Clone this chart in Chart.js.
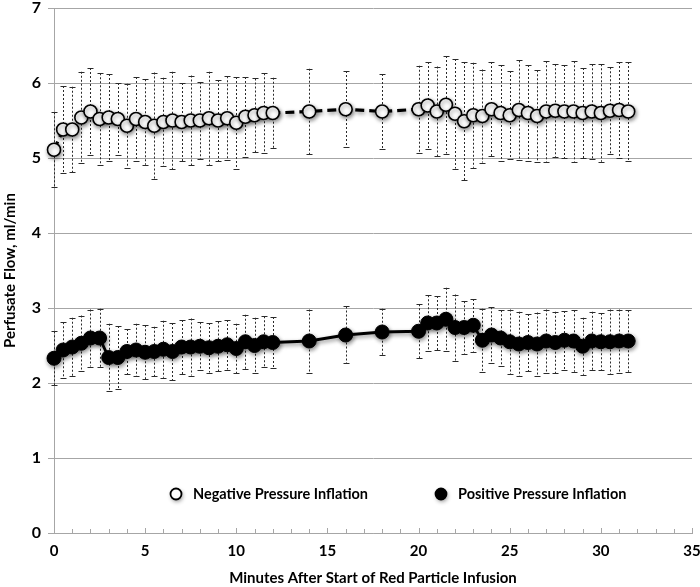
<!DOCTYPE html>
<html>
<head>
<meta charset="utf-8">
<title>Perfusate flow</title>
<script src="https://cdn.jsdelivr.net/npm/chart.js@4"></script>
<style>
  html, body { margin: 0; padding: 0; background: #fff; }
  #wrap { position: relative; width: 700px; height: 587px; }
</style>
</head>
<body>
<div id="wrap"><canvas id="flowChart"></canvas></div>
<script>
/* values (mean +/- SD, ml/min) */
const minutes = [0, 0.5, 1, 1.5, 2, 2.5, 3, 3.5, 4, 4.5, 5, 5.5, 6, 6.5, 7, 7.5, 8, 8.5, 9, 9.5,
  10, 10.5, 11, 11.5, 12, 14, 16, 18, 20, 20.5, 21, 21.5, 22, 22.5, 23, 23.5, 24, 24.5, 25, 25.5,
  26, 26.5, 27, 27.5, 28, 28.5, 29, 29.5, 30, 30.5, 31, 31.5];

const negMean = [5.11, 5.38, 5.38, 5.54, 5.62, 5.52, 5.54, 5.52, 5.43, 5.52, 5.48, 5.43, 5.48, 5.50, 5.48, 5.50, 5.50, 5.53, 5.50, 5.53,
  5.47, 5.55, 5.57, 5.60, 5.60, 5.62, 5.65, 5.62, 5.65, 5.70, 5.62, 5.71, 5.59, 5.49, 5.57, 5.56, 5.65, 5.60, 5.57, 5.64,
  5.60, 5.56, 5.62, 5.63, 5.62, 5.62, 5.60, 5.62, 5.60, 5.63, 5.64, 5.62];
const negSD = [0.50, 0.58, 0.57, 0.61, 0.58, 0.61, 0.58, 0.48, 0.56, 0.56, 0.57, 0.71, 0.59, 0.65, 0.52, 0.60, 0.51, 0.62, 0.54, 0.56,
  0.61, 0.53, 0.49, 0.53, 0.47, 0.57, 0.51, 0.50, 0.58, 0.58, 0.60, 0.65, 0.73, 0.79, 0.70, 0.62, 0.63, 0.64, 0.59, 0.66,
  0.64, 0.61, 0.67, 0.62, 0.62, 0.67, 0.60, 0.63, 0.65, 0.58, 0.64, 0.66];

const posMean = [2.33, 2.44, 2.48, 2.53, 2.60, 2.60, 2.34, 2.34, 2.42, 2.44, 2.41, 2.42, 2.45, 2.42, 2.48, 2.48, 2.49, 2.47, 2.49, 2.51,
  2.46, 2.55, 2.50, 2.55, 2.54, 2.56, 2.64, 2.68, 2.69, 2.80, 2.80, 2.85, 2.74, 2.74, 2.77, 2.57, 2.64, 2.60, 2.55, 2.52,
  2.54, 2.52, 2.56, 2.54, 2.57, 2.56, 2.49, 2.56, 2.55, 2.55, 2.56, 2.56];
const posSD = [0.36, 0.37, 0.39, 0.37, 0.38, 0.39, 0.45, 0.42, 0.30, 0.35, 0.36, 0.33, 0.38, 0.38, 0.36, 0.38, 0.32, 0.33, 0.33, 0.33,
  0.33, 0.36, 0.37, 0.34, 0.34, 0.42, 0.38, 0.31, 0.36, 0.37, 0.36, 0.42, 0.44, 0.35, 0.35, 0.42, 0.37, 0.37, 0.43, 0.43,
  0.38, 0.42, 0.42, 0.41, 0.39, 0.41, 0.38, 0.39, 0.38, 0.43, 0.42, 0.41];

const seriesNames = ['Negative Pressure Inflation', 'Positive Pressure Inflation'];
const yTicks = [0, 1, 2, 3, 4, 5, 6, 7];
const xTicks = [0, 5, 10, 15, 20, 25, 30, 35];

const FONT = "'Lato', 'Open Sans', sans-serif";
const AXIS_GREY = '#a6a6a6';

function pts(means){ return minutes.map((m, i) => ({ x: m, y: means[i] })); }

/* dashed SD whiskers with small caps, drawn under the markers */
const errorBars = {
  id: 'errorBars',
  beforeDatasetsDraw(chart){
    const { ctx, scales: { x, y } } = chart;
    const sets = [[negMean, negSD], [posMean, posSD]];
    ctx.save();
    ctx.strokeStyle = '#2a2a2a';
    ctx.lineWidth = 1;
    sets.forEach(([mean, sd]) => {
      minutes.forEach((m, i) => {
        const px = Math.round(x.getPixelForValue(m)) + 0.5;
        const top = y.getPixelForValue(mean[i] + sd[i]);
        const bot = y.getPixelForValue(mean[i] - sd[i]);
        ctx.setLineDash([2, 2]);
        ctx.beginPath(); ctx.moveTo(px, top); ctx.lineTo(px, bot); ctx.stroke();
        ctx.setLineDash([]);
        ctx.beginPath();
        ctx.moveTo(px - 3, Math.round(top) + 0.5); ctx.lineTo(px + 3, Math.round(top) + 0.5);
        ctx.moveTo(px - 3, Math.round(bot) + 0.5); ctx.lineTo(px + 3, Math.round(bot) + 0.5);
        ctx.stroke();
      });
    });
    ctx.restore();
  }
};

/* short minor ticks pointing up from the x axis, one per minute */
const minorTicks = {
  id: 'minorTicks',
  beforeDatasetsDraw(chart){
    const { ctx, scales: { x } } = chart;
    const b = chart.chartArea.bottom;
    ctx.save();
    ctx.strokeStyle = AXIS_GREY;
    ctx.lineWidth = 1;
    ctx.beginPath();
    for(let v = x.min; v <= x.max; v++){
      const px = Math.round(x.getPixelForValue(v)) + 0.5;
      ctx.moveTo(px, b); ctx.lineTo(px, b - (v % 5 === 0 ? 5 : 4));
    }
    ctx.stroke();
    ctx.restore();
  }
};

/* soft drop shadow under lines and markers, like the source figure */
const dropShadow = {
  id: 'dropShadow',
  beforeDatasetDraw(chart){
    const ctx = chart.ctx;
    ctx.save();
    ctx.shadowColor = 'rgba(0,0,0,0.45)';
    ctx.shadowBlur = 4;
    ctx.shadowOffsetX = 1;
    ctx.shadowOffsetY = 2;
  },
  afterDatasetDraw(chart){ chart.ctx.restore(); }
};

/* legend sits inside the plot, just above the x axis */
const innerLegend = {
  id: 'innerLegend',
  afterDraw(chart){
    const { ctx, chartArea } = chart;
    const cy = chartArea.bottom - 39;
    const items = [
      { mx: 176, tx: 193, fill: '#fff' },
      { mx: 441, tx: 458, fill: '#000' },
    ];
    ctx.save();
    items.forEach((it, i) => {
      ctx.save();
      ctx.shadowColor = 'rgba(0,0,0,0.45)';
      ctx.shadowBlur = 4; ctx.shadowOffsetX = 1; ctx.shadowOffsetY = 2;
      ctx.beginPath();
      ctx.arc(it.mx, cy, 5.5, 0, Math.PI * 2);
      ctx.fillStyle = it.fill; ctx.fill();
      ctx.restore();
      ctx.lineWidth = 1.8; ctx.strokeStyle = '#000';
      ctx.beginPath(); ctx.arc(it.mx, cy, 5.5, 0, Math.PI * 2); ctx.stroke();
      ctx.fillStyle = '#000';
      ctx.font = "bold 14.5px " + FONT;
      ctx.textBaseline = 'middle';
      ctx.textAlign = 'left';
      ctx.fillText(seriesNames[i], it.tx, cy);
    });
    ctx.restore();
  }
};

new Chart(document.getElementById('flowChart'), {
  type: 'line',
  data: {
    datasets: [
      { label: seriesNames[0], data: pts(negMean),
        borderColor: '#000', borderWidth: 3.2, borderDash: [9, 5],
        pointRadius: 6.5, pointBorderWidth: 1.6, pointBackgroundColor: '#fff', pointBorderColor: '#000',
        tension: 0, clip: false },
      { label: seriesNames[1], data: pts(posMean),
        borderColor: '#000', borderWidth: 2.8,
        pointRadius: 7, pointBorderWidth: 1, pointBackgroundColor: '#000', pointBorderColor: '#000',
        tension: 0, clip: false },
    ]
  },
  options: {
    responsive: true, maintainAspectRatio: false, animation: false,
    layout: { autoPadding: false, padding: { left: 1, right: 0, top: 0, bottom: 0 } },
    plugins: { legend: { display: false }, tooltip: { enabled: false } },
    scales: {
      x: {
        type: 'linear', min: 0, max: 35,
        afterBuildTicks: s => { s.ticks = xTicks.map(v => ({ value: v })); },
        afterFit: s => { s.height = 54; s.paddingRight = 8; },
        grid: { display: false, drawTicks: false },
        border: { display: true, color: AXIS_GREY, width: 1 },
        ticks: { color: '#000', font: { family: FONT, size: 15, weight: 'bold' }, padding: 9, maxRotation: 0 },
        title: { display: true, text: 'Minutes After Start of Red Particle Infusion', color: '#000',
                 font: { family: FONT, size: 15, weight: 'bold' }, padding: { top: 7, bottom: 0 } },
      },
      y: {
        min: 0, max: 7,
        afterBuildTicks: s => { s.ticks = yTicks.map(v => ({ value: v })); },
        afterFit: s => { s.width = 53; s.paddingTop = 8; },
        grid: { color: AXIS_GREY, lineWidth: 1, tickLength: 6, drawTicks: true },
        border: { display: true, color: AXIS_GREY, width: 1 },
        ticks: { color: '#000', font: { family: FONT, size: 16, weight: 'bold' }, padding: 7 },
        title: { display: true, text: 'Perfusate Flow, ml/min', color: '#000',
                 font: { family: FONT, size: 15, weight: 'bold' }, padding: { top: 0, bottom: 12 } },
      }
    }
  },
  plugins: [errorBars, minorTicks, dropShadow, innerLegend]
});
</script>
</body>
</html>
